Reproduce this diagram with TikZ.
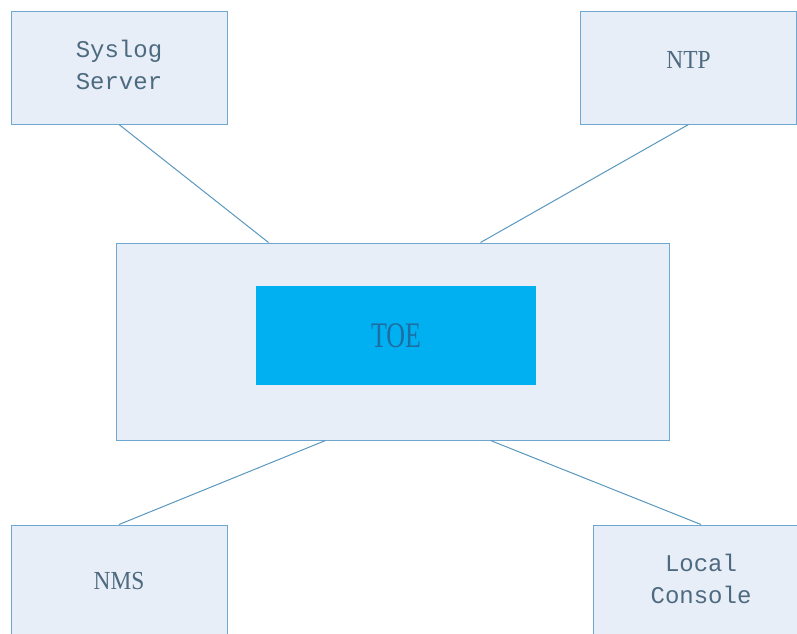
\documentclass[tikz,border=0pt]{standalone}
\usepackage{fontspec}
\setmainfont{Liberation Serif}
\newfontfamily\monofont{Liberation Mono}
\definecolor{boxfill}{HTML}{E8EEF7}
\definecolor{boxline}{HTML}{6EA7D0}
\definecolor{conn}{HTML}{5A98BF}
\definecolor{txt}{HTML}{4D6A80}
\definecolor{toefill}{HTML}{00B0F0}
\definecolor{toetxt}{HTML}{1E6DA3}
\tikzset{
  x=1pt, y=1pt,
  hostbox/.style={draw=boxline, fill=boxfill, line width=1pt, minimum width=216pt, minimum height=113pt, inner sep=0pt, text=txt, align=center},
  monotext/.style={font=\monofont\fontsize{24}{32}\selectfont},
  seriftext/.style={font=\fontsize{26}{30}\selectfont},
  wire/.style={draw=conn, line width=1pt},
}
\begin{document}
\begin{tikzpicture}
\useasboundingbox (0,0) rectangle (797,-633);
\clip (0,0) rectangle (797,-633);
\fill[white] (0,0) rectangle (797,-633);
% central box
\node[draw=boxline, fill=boxfill, line width=1pt, minimum width=553pt, minimum height=197pt, inner sep=0pt] (big) at (392.5,-341.5) {};
\node[fill=toefill, minimum width=280pt, minimum height=99pt, inner sep=0pt, text=toetxt, font=\fontsize{36}{40}\selectfont] (toe) at (396,-335.5) {\scalebox{0.72}[1]{TOE}};
% hosts
\node[hostbox, monotext] (syslog) at (119,-67.5) {\raisebox{2pt}{\begin{tabular}{@{}c@{}}Syslog\\Server\end{tabular}}};
\node[hostbox, seriftext] (ntp) at (688.5,-67.5) {\raisebox{16pt}{\scalebox{0.9}[1]{NTP}}};
\node[hostbox, seriftext] (nms) at (119,-581.5) {\scalebox{0.9}[1]{NMS}};
\node[hostbox, monotext] (console) at (701,-581.5) {\raisebox{3pt}{\begin{tabular}{@{}c@{}}Local\\Console\end{tabular}}};
% connectors
\draw[wire] (syslog.south) -- ([xshift=153pt]big.north west);
\draw[wire] (ntp.south) -- ([xshift=365pt]big.north west);
\draw[wire] (nms.north) -- ([xshift=210pt]big.south west);
\draw[wire] (console.north) -- ([xshift=375pt]big.south west);
\end{tikzpicture}
\end{document}
